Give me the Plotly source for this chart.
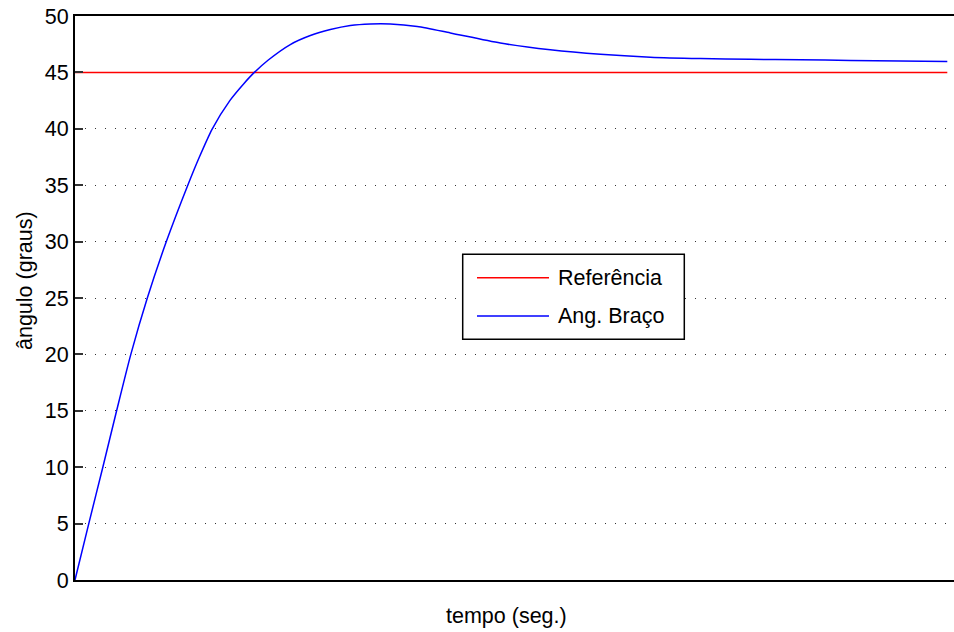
import plotly.graph_objects as go

# Step response of the arm angle vs. the 45 degree set point
time_s = [0, 0.158, 0.319, 0.477, 0.640, 0.829, 1.047, 1.293, 1.426, 1.574, 1.775, 1.935,
          2.056, 2.216, 2.468, 2.698, 2.927, 3.156, 3.385, 3.615, 3.924, 4.303, 4.876,
          5.449, 6.023, 6.596, 7.169, 7.742, 8.315, 8.888, 9.461, 10.0]
arm_angle = [0, 5, 10, 15, 20, 25, 30, 35, 37.5, 40, 42.5, 44,
             45, 46.1, 47.47, 48.27, 48.8, 49.16, 49.3, 49.3, 49.07, 48.5, 47.6,
             47.0, 46.6, 46.35, 46.23, 46.16, 46.12, 46.06, 46.0, 45.96]
ref_time = [0, 10.0]
ref_angle = [45, 45]

y_ticks = [0, 5, 10, 15, 20, 25, 30, 35, 40, 45, 50]
legend_names = ["Referência", "Ang. Braço"]
legend_colors = ["#ff0000", "#0000ff"]

FONT = "Liberation Sans, Arial, Helvetica, sans-serif"
FSIZE = 21.5

W, H = 954, 632
ML, MR, MT, MB = 75, 0, 16, 52
PW, PH = W - ML - MR, H - MT - MB


def px_x(px):
    return (px - ML) / PW


def px_y(py):
    return (H - MB - py) / PH


fig = go.Figure()
fig.add_trace(go.Scatter(x=ref_time, y=ref_angle, mode="lines", name=legend_names[0],
                         line=dict(color=legend_colors[0], width=1.5), showlegend=False))
fig.add_trace(go.Scatter(x=time_s, y=arm_angle, mode="lines", name=legend_names[1],
                         line=dict(color=legend_colors[1], width=1.5, shape="spline",
                                   smoothing=0.7),
                         showlegend=False))

shapes = []
annotations = []

# boxed legend in the middle of the axes
shapes.append(dict(type="rect", xref="paper", yref="paper",
                   x0=px_x(462.7), x1=px_x(684.3), y0=px_y(339.3), y1=px_y(254.3),
                   line=dict(color="black", width=1.5), fillcolor="white", layer="above"))
for name, color, row_y in zip(legend_names, legend_colors, [277.7, 316.0]):
    shapes.append(dict(type="line", xref="paper", yref="paper",
                       x0=px_x(477), x1=px_x(549), y0=px_y(row_y), y1=px_y(row_y),
                       line=dict(color=color, width=1.5), layer="above"))
    annotations.append(dict(text=name, xref="paper", yref="paper",
                            x=px_x(556), y=px_y(row_y), xanchor="left", yanchor="middle",
                            showarrow=False, font=dict(family=FONT, size=FSIZE, color="black")))

annotations.append(dict(text="tempo (seg.)", xref="paper", yref="paper",
                        x=px_x(506), y=px_y(616), xanchor="center", yanchor="middle",
                        showarrow=False, font=dict(family=FONT, size=FSIZE, color="black")))
annotations.append(dict(text="ângulo (graus)", xref="paper", yref="paper",
                        x=px_x(25), y=px_y(281), xanchor="center", yanchor="middle",
                        textangle=-90, showarrow=False,
                        font=dict(family=FONT, size=FSIZE, color="black")))

fig.update_layout(
    width=W, height=H,
    margin=dict(l=ML, r=MR, t=MT, b=MB, pad=0),
    paper_bgcolor="white", plot_bgcolor="white",
    font=dict(family=FONT, size=FSIZE, color="black"),
    shapes=shapes, annotations=annotations,
    xaxis=dict(range=[0, 10.0 * PW / 872.3], showticklabels=False, ticks="",
               showgrid=False, zeroline=False, showline=True, linecolor="black",
               linewidth=2, mirror=True),
    yaxis=dict(range=[0, 50], tickvals=y_ticks, ticks="inside", ticklen=8,
               tickwidth=1.5, tickcolor="#333333", showgrid=True, gridcolor="#333333",
               gridwidth=1, griddash="1px,9px", zeroline=False, showline=True,
               linecolor="black", linewidth=2, mirror=False,
               tickfont=dict(family=FONT, size=FSIZE, color="black")),
)

fig.write_html("out.html")
